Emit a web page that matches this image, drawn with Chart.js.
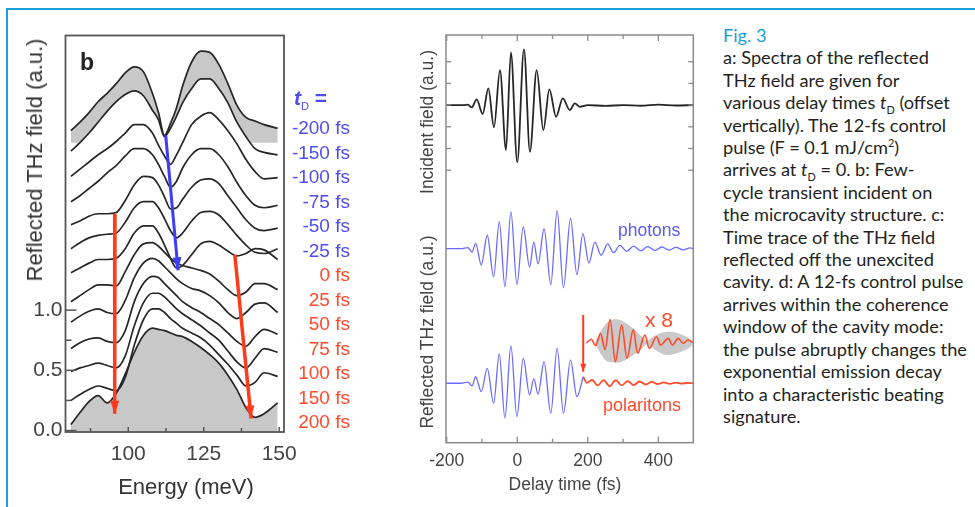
<!DOCTYPE html>
<html>
<head>
<meta charset="utf-8">
<script src="https://cdn.jsdelivr.net/npm/chart.js@4.4.0/dist/chart.umd.min.js"></script>
<style>
  html, body { margin: 0; padding: 0; background: #fff; }
  #page { position: relative; width: 975px; height: 507px; overflow: hidden;
          font-family: "Liberation Sans", Arial, sans-serif; color: #333; }
  .rule-top { position: absolute; left: 6px; top: 8px; width: 969px; height: 2px; background: #1b9dd9; }
  .rule-left { position: absolute; left: 6px; top: 8px; width: 2px; height: 499px; background: #1b9dd9; }
  canvas { position: absolute; top: 0; }
  #spectra { left: 0; }
  #traces { left: 380px; }
  .txt { position: absolute; white-space: nowrap; line-height: 1; }
  .mid { transform: translate(-50%, -50%); }
  .vert { transform: translate(-50%, -50%) rotate(-90deg); }
  .delay { position: absolute; left: 250px; width: 100px; text-align: right; font-size: 19px; line-height: 1; }
  #caption { position: absolute; left: 723px; top: 24px; font-family: Lato, "Open Sans", sans-serif;
             font-size: 18.2px; line-height: 22.4px; color: #231f20; white-space: nowrap; }
  #caption .fig { color: #1b9dd9; }
  #caption sub, #caption sup { font-size: 0.6em; line-height: 0; }
</style>
</head>
<body>
<div id="page">
  <div class="rule-top"></div>
  <div class="rule-left"></div>
  <canvas id="spectra" width="380" height="507"></canvas>
  <canvas id="traces" width="330" height="507"></canvas>

  <div class="txt" style="left:80px; top:51px; font-size:23px; font-weight:bold; color:#222;">b</div>
  <div class="txt" style="left:294px; top:87px; font-size:21px; color:#4d4df0; font-weight:bold;"><i>t</i><sub style="font-size:11px; font-weight:normal;">D</sub> =</div>

  <div class="txt vert" style="left:35px; top:160px; font-size:22px; color:#333;">Reflected THz field (a.u.)</div>
  <div class="txt mid" style="left:186px; top:487px; font-size:22px; color:#333;">Energy (meV)</div>

  <div class="txt vert" style="left:428px; top:122px; font-size:17.5px; color:#444;">Incident field (a.u.)</div>
  <div class="txt vert" style="left:428px; top:332px; font-size:17.5px; color:#444;">Reflected THz field (a.u.)</div>
  <div class="txt mid" style="left:565px; top:485px; font-size:17.5px; color:#444;">Delay time (fs)</div>

  <div class="txt" style="left:618px; top:222px; font-size:17.5px; color:#5a5af5;">photons</div>
  <div class="txt" style="left:645px; top:309px; font-size:21px; color:#ff4a2a;">x 8</div>
  <div class="txt" style="left:603px; top:396px; font-size:18px; color:#ff4a2a;">polaritons</div>

  <div id="caption">
    <span class="fig">Fig. 3</span><br>
    a: Spectra of the reflected<br>
    THz field are given for<br>
    various delay times <i>t</i><sub>D</sub> (offset<br>
    vertically). The 12-fs control<br>
    pulse (F = 0.1 mJ/cm<sup>2</sup>)<br>
    arrives at <i>t</i><sub>D</sub> = 0. b: Few-<br>
    cycle transient incident on<br>
    the microcavity structure. c:<br>
    Time trace of the THz field<br>
    reflected off the unexcited<br>
    cavity. d: A 12-fs control pulse<br>
    arrives within the coherence<br>
    window of the cavity mode:<br>
    the pulse abruptly changes the<br>
    exponential emission decay<br>
    into a characteristic beating<br>
    signature.
  </div>
</div>

<script>
// ---- spectra (left panel), offset vertically ----
const energy = [81, 84, 87, 90, 93, 96, 99, 102, 105, 108, 110, 112, 114, 116, 118, 121, 124, 127, 130, 133, 136, 139, 142, 145, 149.5];

const specM200 = [2.49, 2.56, 2.64, 2.73, 2.80, 2.88, 2.97, 3.02, 2.98, 2.80, 2.64, 2.45, 2.55, 2.68, 2.86, 3.06, 3.15, 3.14, 3.04, 2.88, 2.70, 2.60, 2.57, 2.54, 2.51];
const specM150 = [2.32, 2.39, 2.47, 2.56, 2.65, 2.73, 2.79, 2.82, 2.78, 2.66, 2.58, 2.44, 2.51, 2.61, 2.72, 2.84, 2.92, 2.92, 2.84, 2.72, 2.56, 2.44, 2.34, 2.31, 2.29];
const specM100 = [2.11, 2.17, 2.23, 2.29, 2.34, 2.40, 2.47, 2.54, 2.54, 2.47, 2.37, 2.28, 2.21, 2.29, 2.39, 2.54, 2.61, 2.64, 2.58, 2.49, 2.38, 2.25, 2.15, 2.09, 2.10];
const specM75  = [1.90, 1.95, 2.01, 2.07, 2.14, 2.20, 2.28, 2.34, 2.34, 2.29, 2.21, 2.11, 2.02, 2.07, 2.18, 2.29, 2.34, 2.34, 2.29, 2.19, 2.06, 1.95, 1.87, 1.85, 1.87];
const specM50  = [1.71, 1.74, 1.78, 1.80, 1.80, 1.81, 1.91, 2.04, 2.11, 2.10, 2.04, 1.94, 1.84, 1.85, 1.92, 2.02, 2.08, 2.09, 2.05, 1.95, 1.85, 1.75, 1.68, 1.66, 1.68];
const specM25  = [1.51, 1.56, 1.60, 1.62, 1.63, 1.64, 1.73, 1.85, 1.90, 1.90, 1.85, 1.76, 1.66, 1.60, 1.64, 1.74, 1.81, 1.82, 1.79, 1.71, 1.62, 1.54, 1.48, 1.47, 1.51];
const spec0    = [1.31, 1.35, 1.39, 1.42, 1.42, 1.43, 1.51, 1.64, 1.70, 1.70, 1.64, 1.54, 1.43, 1.35, 1.37, 1.46, 1.55, 1.57, 1.54, 1.49, 1.45, 1.47, 1.51, 1.50, 1.42];
const spec25   = [1.07, 1.12, 1.17, 1.21, 1.21, 1.20, 1.32, 1.46, 1.55, 1.56, 1.53, 1.48, 1.43, 1.39, 1.37, 1.35, 1.33, 1.30, 1.24, 1.17, 1.12, 1.15, 1.22, 1.22, 1.17];
const spec50   = [0.90, 0.95, 0.99, 1.01, 0.98, 0.97, 1.08, 1.27, 1.39, 1.43, 1.41, 1.36, 1.31, 1.26, 1.22, 1.18, 1.16, 1.12, 1.06, 0.98, 0.93, 0.98, 1.05, 1.06, 0.98];
const spec75   = [0.68, 0.73, 0.76, 0.77, 0.74, 0.73, 0.83, 1.07, 1.22, 1.28, 1.27, 1.22, 1.17, 1.12, 1.07, 1.02, 0.98, 0.93, 0.88, 0.81, 0.74, 0.70, 0.78, 0.84, 0.80];
const spec100  = [0.49, 0.52, 0.54, 0.56, 0.54, 0.52, 0.62, 0.87, 1.06, 1.14, 1.14, 1.11, 1.06, 1.01, 0.97, 0.92, 0.87, 0.81, 0.75, 0.66, 0.57, 0.52, 0.60, 0.68, 0.65];
const spec150  = [0.25, 0.30, 0.34, 0.37, 0.35, 0.33, 0.44, 0.71, 0.92, 1.01, 1.01, 0.98, 0.93, 0.89, 0.85, 0.81, 0.77, 0.71, 0.63, 0.55, 0.46, 0.37, 0.40, 0.48, 0.45];
const spec200  = [0.05, 0.15, 0.24, 0.29, 0.23, 0.31, 0.47, 0.65, 0.79, 0.85, 0.84, 0.83, 0.81, 0.79, 0.78, 0.74, 0.69, 0.63, 0.56, 0.46, 0.34, 0.19, 0.11, 0.14, 0.23];

const spectra = [specM200, specM150, specM100, specM75, specM50, specM25, spec0, spec25, spec50, spec75, spec100, spec150, spec200];
const delayLabels = ['-200 fs', '-150 fs', '-100 fs', '-75 fs', '-50 fs', '-25 fs', '0 fs', '25 fs', '50 fs', '75 fs', '100 fs', '150 fs', '200 fs'];
const topFillLevel = 2.39;

const energyTicks = [100, 125, 150];
const energyMinor = [87.5, 112.5, 137.5];
const fieldTicks = [0, 0.5, 1.0];
const fieldMinor = [0.25, 0.75];

// arrows [start, end] in (meV, a.u.)
const blueArrow = [[112.4, 2.45], [116.5, 1.33]];
const redArrowLow = [[95.6, 1.80], [95.5, 0.14]];
const redArrowHigh = [[135.3, 1.46], [140.7, 0.10]];

// ---- time traces (right panel) ----
const incidentTime  = [-202, -150, -140, -129, -115, -98, -82, -66, -49, -32, -18, 0, 19, 36, 55, 74, 91, 110, 129, 149, 163, 178, 200, 250, 300, 350, 400, 450, 499];
const incidentField = [0, 0, 0.02, -0.11, 0.26, -0.41, 0.77, -1.03, 1.61, -2.07, 2.43, -2.63, 2.57, -2.15, 1.61, -1.15, 0.72, -0.54, 0.31, -0.23, 0.08, -0.08, 0, -0.04, 0, -0.03, 0.02, -0.02, 0];

const photonTime  = [-202, -160, -140, -128, -118, -102, -85, -67, -51, -35, -18, -1, 17, 35, 47, 59, 76, 95, 113, 131, 151, 169, 186, 203, 220, 238, 256, 273, 291, 310, 330, 350, 370, 390, 410, 430, 450, 470, 490, 499];
const photonField = [0, 0, 0.05, -0.15, 0.25, -0.75, 0.62, -1.3, 1.25, -1.75, 1.7, -1.65, 1.0, -0.85, 0.3, -0.7, 0.92, -1.65, 1.75, -1.8, 1.4, -1.2, 0.7, -0.65, 0.3, -0.3, 0.22, -0.18, 0.15, -0.12, 0.12, -0.1, 0.1, -0.08, 0.08, -0.06, 0.06, -0.05, 0.04, 0];

const polaritonTime  = [-202, -160, -140, -128, -118, -102, -85, -67, -51, -35, -18, -1, 17, 35, 47, 59, 76, 95, 113, 131, 151, 169, 187];
const polaritonField = [0, 0, 0.05, -0.12, 0.3, -0.39, 0.69, -0.92, 1.35, -1.61, 1.72, -1.54, 1.15, -0.54, 0.2, -0.5, 1.0, -1.38, 1.61, -1.38, 1.07, -0.62, 0.3];

const tailTime  = [187, 197, 212, 228, 245, 262, 279, 296, 313, 330, 347, 364, 381, 398, 415, 432, 449, 466, 483, 499];
const tailField = [0.3, 0.02, 0.15, -0.1, 0.14, -0.14, 0.14, -0.1, 0.1, -0.08, 0.08, -0.06, 0.06, -0.04, 0.04, -0.03, 0.03, -0.02, 0.02, 0];

const zoomTime  = [196, 210, 222, 236, 249, 263, 278, 296, 311, 329, 341, 362, 374, 395, 406, 428, 440, 456, 470, 484, 499];
const zoomField = [0, 0.18, -0.12, 0.45, -0.3, 1.09, -0.86, 0.83, -0.7, 0.63, -0.47, 0.37, -0.24, 0.29, -0.09, 0.22, -0.09, 0.22, -0.01, 0.14, 0.01];

const envTime  = [220, 235, 255, 282, 305, 330, 350, 368, 385, 405, 423, 445, 465, 485, 496];
const envUpper = [0, 0.5, 0.95, 1.1, 0.95, 0.65, 0.35, 0.1, 0.3, 0.45, 0.52, 0.5, 0.4, 0.25, 0.1];
const envLower = [0, -0.45, -0.85, -0.9, -0.8, -0.55, -0.3, -0.05, -0.25, -0.45, -0.55, -0.5, -0.4, -0.25, -0.1];

const photonOffset = -6.62;
const polaritonOffset = -12.82;
const zoomOffset = -10.97;
const pulseArrow = [[187, -9.68], [187, -12.29]];

const timeTicks = [-200, 0, 200, 400];
const timeMinor = [-100, 100, 300];
const traceTicks = [-3, -2, -1, 0, 1, 2];

Chart.defaults.font.family = "'Liberation Sans', Arial, sans-serif";

// frame round the plot area with inward tick marks
const boxFrame = {
  id: 'boxFrame',
  afterDraw(chart, args, opts) {
    const { ctx, chartArea: a, scales } = chart;
    ctx.save();
    ctx.strokeStyle = opts.color;
    ctx.lineWidth = opts.width;
    ctx.strokeRect(a.left, a.top, a.right - a.left, a.bottom - a.top);
    ctx.lineWidth = opts.tickWidth;
    opts.marks.forEach(m => {
      m.values.forEach(v => {
        ctx.beginPath();
        if (m.side === 'bottom' || m.side === 'top') {
          const x = scales.x.getPixelForValue(v);
          const y0 = m.side === 'bottom' ? a.bottom : a.top;
          const dir = m.side === 'bottom' ? -1 : 1;
          ctx.moveTo(x, y0);
          ctx.lineTo(x, y0 + dir * m.len);
        } else {
          const y = scales.y.getPixelForValue(v);
          const x0 = m.side === 'left' ? a.left : a.right;
          const dir = m.side === 'left' ? 1 : -1;
          ctx.moveTo(x0, y);
          ctx.lineTo(x0 + dir * m.len, y);
        }
        ctx.stroke();
      });
    });
    ctx.restore();
  }
};

// filled heads on datasets marked as arrows
const arrowHeads = {
  id: 'arrowHeads',
  afterDatasetsDraw(chart) {
    const ctx = chart.ctx;
    chart.data.datasets.forEach((ds, i) => {
      if (!ds.arrowHead) return;
      const pts = chart.getDatasetMeta(i).data;
      const a = pts[pts.length - 2], b = pts[pts.length - 1];
      const ang = Math.atan2(b.y - a.y, b.x - a.x);
      ctx.save();
      ctx.translate(b.x, b.y);
      ctx.rotate(ang);
      ctx.beginPath();
      ctx.moveTo(0, 0);
      ctx.lineTo(-ds.arrowHead.length, -ds.arrowHead.width / 2);
      ctx.lineTo(-ds.arrowHead.length, ds.arrowHead.width / 2);
      ctx.closePath();
      ctx.fillStyle = ds.borderColor;
      ctx.fill();
      ctx.restore();
    });
  }
};

const toPoints = (xs, ys, off = 0) => xs.map((x, k) => ({ x: x, y: ys[k] + off }));
const arrowSet = (pair, color, width, head) => ({
  data: pair.map(p => ({ x: p[0], y: p[1] })),
  borderColor: color, borderWidth: width, pointRadius: 0, tension: 0,
  fill: false, order: 0, arrowHead: head
});

// left panel
const spectraSets = spectra.map((vals, i) => {
  const ds = {
    data: toPoints(energy, vals),
    borderColor: '#262626', borderWidth: 1.7, pointRadius: 0,
    cubicInterpolationMode: 'monotone', fill: false, order: 1
  };
  if (i === 0) { ds.fill = { value: topFillLevel }; ds.backgroundColor = '#c8c8c8'; ds.order = 3; }
  if (i === 1) { ds.fill = 'start'; ds.backgroundColor = '#ffffff'; ds.order = 2; }
  if (i === spectra.length - 1) { ds.fill = 'start'; ds.backgroundColor = '#c8c8c8'; }
  return ds;
});

new Chart(document.getElementById('spectra'), {
  type: 'line',
  data: {
    datasets: [
      ...spectraSets,
      arrowSet(blueArrow, '#3c3cfa', 3, { length: 13, width: 9 }),
      arrowSet(redArrowLow, '#ff3b1c', 3.5, { length: 13, width: 9 }),
      arrowSet(redArrowHigh, '#ff3b1c', 3.5, { length: 13, width: 9 })
    ]
  },
  options: {
    responsive: false, animation: false, devicePixelRatio: 1,
    layout: { padding: { top: 35.5, right: 96, left: 0, bottom: 0 } },
    plugins: {
      legend: { display: false }, tooltip: { enabled: false },
      boxFrame: {
        color: '#555', width: 1.8, tickWidth: 1.5,
        marks: [
          { side: 'left', values: fieldTicks, len: 11 },
          { side: 'left', values: fieldMinor, len: 6 },
          { side: 'bottom', values: energyTicks, len: 5 },
          { side: 'bottom', values: energyMinor, len: 4 }
        ]
      }
    },
    scales: {
      x: {
        type: 'linear', min: 79.2, max: 151.6,
        grid: { display: false, drawTicks: false }, border: { display: false },
        ticks: { color: '#444', font: { size: 21 }, padding: 10, maxRotation: 0 },
        afterBuildTicks: s => { s.ticks = energyTicks.map(v => ({ value: v })); },
        afterFit: s => { s.height = 75; }
      },
      y: {
        type: 'linear', min: -0.012, max: 3.28,
        grid: { display: false, drawTicks: false }, border: { display: false },
        ticks: { color: '#444', font: { size: 21 }, padding: 3, callback: v => v.toFixed(1) },
        afterBuildTicks: s => { s.ticks = fieldTicks.map(v => ({ value: v })); },
        afterFit: s => { s.width = 65.5; }
      }
    }
  },
  plugins: [boxFrame, arrowHeads]
});

// delay labels beside the spectra
const page = document.getElementById('page');
delayLabels.forEach((txt, i) => {
  const d = document.createElement('div');
  d.className = 'delay';
  d.textContent = txt;
  d.style.top = (118 + i * 24.53) + 'px';
  d.style.color = i < 6 ? '#4d4df0' : '#ff4a2a';
  page.appendChild(d);
});

// right panel
const traceLine = (pts, color, width) => ({
  data: pts, borderColor: color, borderWidth: width, pointRadius: 0,
  cubicInterpolationMode: 'monotone', fill: false, order: 1
});

new Chart(document.getElementById('traces'), {
  type: 'line',
  data: {
    datasets: [
      { data: toPoints(envTime, envUpper, zoomOffset), borderWidth: 0, pointRadius: 0,
        cubicInterpolationMode: 'monotone', fill: false, order: 5 },
      { data: toPoints(envTime, envLower, zoomOffset), borderWidth: 0, pointRadius: 0,
        cubicInterpolationMode: 'monotone', fill: '-1', backgroundColor: '#c9c9c9', order: 5 },
      traceLine(toPoints(incidentTime, incidentField), '#262626', 1.8),
      traceLine(toPoints(photonTime, photonField, photonOffset), '#6a6aff', 1.3),
      traceLine(toPoints(polaritonTime, polaritonField, polaritonOffset), '#6a6aff', 1.3),
      traceLine(toPoints(tailTime, tailField, polaritonOffset), '#ff4a2a', 1.8),
      traceLine(toPoints(zoomTime, zoomField, zoomOffset), '#ff4a2a', 1.6),
      arrowSet(pulseArrow, '#ff3b1c', 2, { length: 8, width: 6 })
    ]
  },
  options: {
    responsive: false, animation: false, devicePixelRatio: 1,
    layout: { padding: { top: 35, right: 16.7, left: 66, bottom: 0 } },
    plugins: {
      legend: { display: false }, tooltip: { enabled: false },
      boxFrame: {
        color: '#8a8a8a', width: 1.5, tickWidth: 1.3,
        marks: [
          { side: 'left', values: traceTicks, len: 5 },
          { side: 'right', values: traceTicks, len: 5 },
          { side: 'top', values: timeTicks, len: 6 },
          { side: 'top', values: timeMinor, len: 4 },
          { side: 'bottom', values: timeTicks, len: 6 },
          { side: 'bottom', values: timeMinor, len: 4 }
        ]
      }
    },
    scales: {
      x: {
        type: 'linear', min: -202, max: 499,
        grid: { display: false, drawTicks: false }, border: { display: false },
        ticks: { color: '#444', font: { size: 17.5 }, padding: 8, maxRotation: 0 },
        afterBuildTicks: s => { s.ticks = timeTicks.map(v => ({ value: v })); },
        afterFit: s => { s.height = 64.3; }
      },
      y: { type: 'linear', display: false, min: -15.56, max: 3.23 }
    }
  },
  plugins: [boxFrame, arrowHeads]
});
</script>
</body>
</html>
